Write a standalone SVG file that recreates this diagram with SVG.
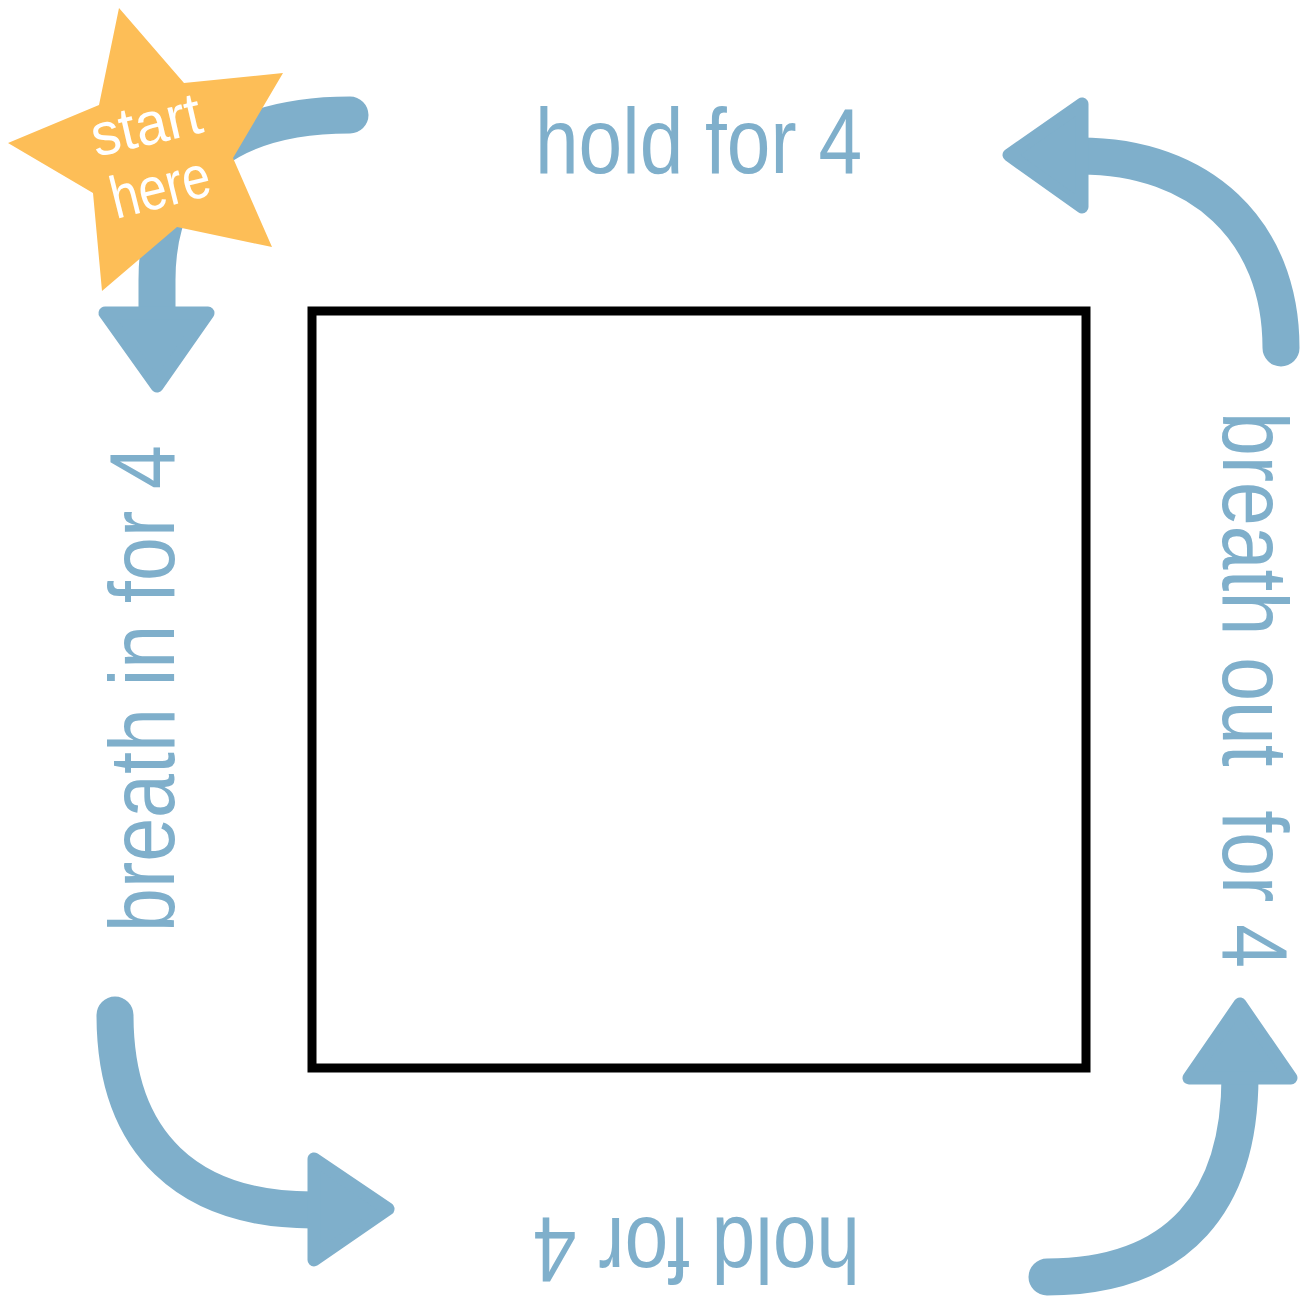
<svg xmlns="http://www.w3.org/2000/svg" width="1305" height="1296" viewBox="0 0 1305 1296">
  <style>
    .stem { fill: none; stroke: #7FAFCB; stroke-width: 37; stroke-linecap: round; }
    .head { fill: #7FAFCB; stroke: #7FAFCB; stroke-width: 13; stroke-linejoin: round; }
    .lbl { font-family: "Liberation Sans", Arial, sans-serif; font-size: 93px; fill: #7FAFCB; white-space: pre; }
    .star-txt { font-family: "Liberation Sans", Arial, sans-serif; font-size: 60px; fill: #FFFFFF; }
  </style>
  <rect width="1305" height="1296" fill="#FFFFFF"/>

  <g id="connectors">
    <g id="arrow-top-left">
      <path class="stem" d="M350,115 C240,115 157,160 157,280 L157,312"/>
      <polygon class="head" points="105,313 208,313 157,386"/>
    </g>
    <g id="arrow-top-right">
      <path class="stem" d="M1281,348 C1281,230 1200,156 1080,156"/>
      <polygon class="head" points="1082,104 1082,207 1009,155"/>
    </g>
    <g id="arrow-bottom-left">
      <path class="stem" d="M115,1015 C115,1145 190,1210 312,1210"/>
      <polygon class="head" points="314,1159 314,1260 388,1209"/>
    </g>
    <g id="arrow-bottom-right">
      <path class="stem" d="M1047,1277 C1180,1277 1240,1200 1240,1076"/>
      <polygon class="head" points="1189,1078 1291,1078 1240,1004"/>
    </g>
  </g>

  <g id="square">
    <rect x="312" y="311" width="774" height="757" fill="none" stroke="#000000" stroke-width="9"/>
  </g>

  <g id="label-top">
    <text class="lbl" x="535" y="173" textLength="327" lengthAdjust="spacingAndGlyphs">hold for 4</text>
  </g>
  <g id="label-bottom">
    <text class="lbl" transform="translate(860,1218) rotate(180)" x="0" y="0" textLength="327" lengthAdjust="spacingAndGlyphs">hold for 4</text>
  </g>
  <g id="label-left">
    <text class="lbl" transform="translate(174,932) rotate(-90)" x="0" y="0" textLength="487" lengthAdjust="spacingAndGlyphs">breath in for 4</text>
  </g>
  <g id="label-right">
    <text class="lbl" transform="translate(1223,412) rotate(90)" x="0" y="0" textLength="556" lengthAdjust="spacingAndGlyphs">breath out  for 4</text>
  </g>

  <g id="start-star">
    <polygon points="119,8 184,83 283,73 233,158 272,247 177,227 102,291 93,193 8,143 99,105" fill="#FDBE57"/>
    <text class="star-txt" transform="translate(96,157) rotate(-13)" x="0" y="0" textLength="112" lengthAdjust="spacingAndGlyphs">start</text>
    <text class="star-txt" transform="translate(116,219) rotate(-14)" x="0" y="0" textLength="101" lengthAdjust="spacingAndGlyphs">here</text>
  </g>
</svg>
